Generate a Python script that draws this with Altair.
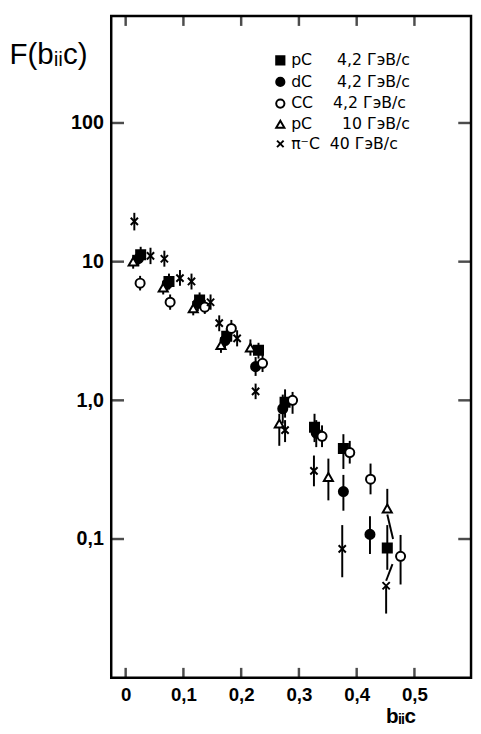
import altair as alt
import pandas as pd

NB = "\u00a0"
series_names = [
    "pC" + NB * 5 + "4,2 ГэВ/c",
    "dC" + NB * 5 + "4,2 ГэВ/c",
    "CC" + NB * 4 + "4,2 ГэВ/c",
    "pC" + NB * 6 + "10 ГэВ/c",
    "π⁻C" + NB * 2 + "40 ГэВ/c",
]

# pC 4.2 (filled squares)
a_x = [0.026, 0.075, 0.128, 0.175, 0.230, 0.276, 0.327, 0.377, 0.453]
a_y = [11.2, 7.2, 5.3, 2.9, 2.3, 0.97, 0.64, 0.45, 0.086]
a_lo = [9.8, 6.3, 4.7, 2.5, 2.0, 0.75, 0.50, 0.32, 0.060]
a_hi = [12.8, 8.2, 6.0, 3.3, 2.6, 1.20, 0.80, 0.57, 0.126]

# dC 4.2 (filled circles)
b_x = [0.022, 0.072, 0.125, 0.172, 0.225, 0.272, 0.330, 0.377, 0.423]
b_y = [10.5, 6.9, 5.0, 2.7, 1.75, 0.87, 0.58, 0.22, 0.108]
b_lo = [9.3, 6.1, 4.4, 2.35, 1.5, 0.68, 0.46, 0.16, 0.078]
b_hi = [11.8, 7.8, 5.6, 3.1, 2.05, 1.10, 0.72, 0.29, 0.146]

# CC 4.2 (open circles)
c_x = [0.025, 0.077, 0.137, 0.183, 0.237, 0.289, 0.340, 0.388, 0.424, 0.476]
c_y = [7.0, 5.1, 4.7, 3.3, 1.85, 1.0, 0.55, 0.42, 0.27, 0.075]
c_lo = [6.2, 4.5, 4.2, 2.9, 1.6, 0.80, 0.46, 0.35, 0.21, 0.047]
c_hi = [7.9, 5.8, 5.3, 3.8, 2.15, 1.15, 0.66, 0.51, 0.35, 0.107]

# pC 10 (open triangles)
d_x = [0.013, 0.065, 0.117, 0.165, 0.216, 0.266, 0.351, 0.453]
d_y = [10.0, 6.5, 4.6, 2.5, 2.4, 0.68, 0.28, 0.166]
d_lo = [8.9, 5.8, 4.1, 2.2, 2.1, 0.47, 0.19, 0.166]
d_hi = [11.2, 7.3, 5.2, 2.85, 2.75, 0.80, 0.38, 0.23]

# pi- C 40 (crosses)
e_x = [0.015, 0.043, 0.067, 0.094, 0.114, 0.147, 0.162, 0.193, 0.225, 0.276, 0.326, 0.375, 0.451]
e_y = [19.5, 11.0, 10.5, 7.6, 7.2, 5.1, 3.6, 2.8, 1.16, 0.61, 0.31, 0.085, 0.046]
e_lo = [16.8, 9.6, 9.2, 6.7, 6.3, 4.5, 3.15, 2.45, 1.02, 0.50, 0.24, 0.053, 0.029]
e_hi = [22.5, 12.6, 12.0, 8.7, 8.2, 5.8, 4.1, 3.2, 1.32, 0.72, 0.40, 0.126, 0.046]

# slanted error segments at the right end
seg_x1 = [0.453, 0.451]
seg_y1 = [0.150, 0.050]
seg_x2 = [0.463, 0.462]
seg_y2 = [0.100, 0.066]

x_ticks = [0, 0.1, 0.2, 0.3, 0.4, 0.5]
y_ticks = [0.1, 1, 10, 100]

shapes = ["square", "circle", "circle", "triangle-up",
          "M-0.8,-0.8L0.8,0.8M-0.8,0.8L0.8,-0.8"]
fills = ["black", "black", "white", "white", "transparent"]
strokes = ["black"] * 5

rows = []
for name, xs, ys, los, his in zip(
    series_names,
    [a_x, b_x, c_x, d_x, e_x],
    [a_y, b_y, c_y, d_y, e_y],
    [a_lo, b_lo, c_lo, d_lo, e_lo],
    [a_hi, b_hi, c_hi, d_hi, e_hi],
):
    for xv, yv, lo, hi in zip(xs, ys, los, his):
        rows.append({"series": name, "x": xv, "y": yv, "lo": lo, "hi": hi})
df = pd.DataFrame(rows)
seg_df = pd.DataFrame({"x1": seg_x1, "y1": seg_y1, "x2": seg_x2, "y2": seg_y2})
xt_df = pd.DataFrame({"v": x_ticks})
yt_df = pd.DataFrame({"v": y_ticks})

W, H = 366, 673
FONT = "Liberation Sans"
LFONT = "DejaVu Sans"

xscale = alt.Scale(domain=[-0.025, 0.598], nice=False, zero=False)
yscale = alt.Scale(type="log", domain=[0.01, 590], nice=False)

x_axis = alt.Axis(
    values=x_ticks, grid=False, ticks=False, domain=False,
    labelExpr="datum.value == 0 ? '0' : replace(format(datum.value, '.1f'), '.', ',')",
    labelFontSize=19, labelFont=FONT, labelFontWeight="bold", labelColor="black",
    labelPadding=8, labelFlush=False,
    title="bᵢᵢc", titleFont=FONT, titleFontSize=21, titleFontWeight="bold",
    titleColor="black", titleAnchor="start", titleAlign="left",
    titleBaseline="alphabetic", titleX=279, titleY=46,
)
y_axis = alt.Axis(
    values=y_ticks, grid=False, ticks=False, domain=False,
    labelExpr="datum.value == 0.1 ? '0,1' : datum.value == 1 ? '1,0' : format(datum.value, 'd')",
    labelFontSize=20, labelFont=FONT, labelFontWeight="bold", labelColor="black",
    labelPadding=8, labelFlush=False,
    title="F(bᵢᵢc)", titleFont=FONT, titleFontSize=30, titleFontWeight="normal",
    titleColor="black", titleAngle=0, titleAlign="left", titleBaseline="alphabetic",
    titleX=-104, titleY=48,
)

err = alt.Chart(df).mark_rule(color="black", strokeWidth=2).encode(
    x=alt.X("x:Q", scale=xscale, axis=x_axis),
    y=alt.Y("lo:Q", scale=yscale, axis=y_axis),
    y2="hi:Q",
)

segs = alt.Chart(seg_df).mark_rule(color="black", strokeWidth=2).encode(
    x=alt.X("x1:Q", scale=xscale, axis=x_axis),
    y=alt.Y("y1:Q", scale=yscale, axis=y_axis),
    x2="x2:Q", y2="y2:Q",
)

legend = alt.Legend(
    title=None, orient="none", legendX=164, legendY=37,
    labelFont=LFONT, labelFontSize=16, labelColor="black",
    symbolSize=70, symbolStrokeWidth=2, labelLimit=300,
    rowPadding=4, labelOffset=3, padding=0,
)

pts = alt.Chart(df).mark_point(size=85, opacity=1, strokeWidth=2).encode(
    x=alt.X("x:Q", scale=xscale, axis=x_axis),
    y=alt.Y("y:Q", scale=yscale, axis=y_axis),
    shape=alt.Shape("series:N", scale=alt.Scale(domain=series_names, range=shapes), legend=legend),
    fill=alt.Fill("series:N", scale=alt.Scale(domain=series_names, range=fills), legend=legend),
    stroke=alt.Stroke("series:N", scale=alt.Scale(domain=series_names, range=strokes), legend=legend),
)

# inward ticks on all four edges, placed from the tick lists
bt = alt.Chart(xt_df).mark_tick(color="black", thickness=2.5, size=10, orient="vertical", yOffset=-5).encode(
    x=alt.X("v:Q", scale=xscale, axis=x_axis), y=alt.value(H)
)
tt = alt.Chart(xt_df).mark_tick(color="black", thickness=2.5, size=10, orient="vertical", yOffset=5).encode(
    x=alt.X("v:Q", scale=xscale, axis=x_axis), y=alt.value(0)
)
lt = alt.Chart(yt_df).mark_tick(color="black", thickness=2.5, size=13, orient="horizontal", xOffset=6.5).encode(
    y=alt.Y("v:Q", scale=yscale, axis=y_axis), x=alt.value(0)
)
rt = alt.Chart(yt_df).mark_tick(color="black", thickness=2.5, size=13, orient="horizontal", xOffset=-6.5).encode(
    y=alt.Y("v:Q", scale=yscale, axis=y_axis), x=alt.value(W)
)

chart = (
    alt.layer(err, segs, pts, bt, tt, lt, rt)
    .properties(
        width=W, height=H,
        autosize=alt.AutoSizeParams(type="none"),
        padding={"left": 105, "top": 2, "right": 2, "bottom": 48},
    )
    .configure_view(stroke="black", strokeWidth=2.5)
)

chart.save("out.html", embed_options={"renderer": "svg", "actions": False})
